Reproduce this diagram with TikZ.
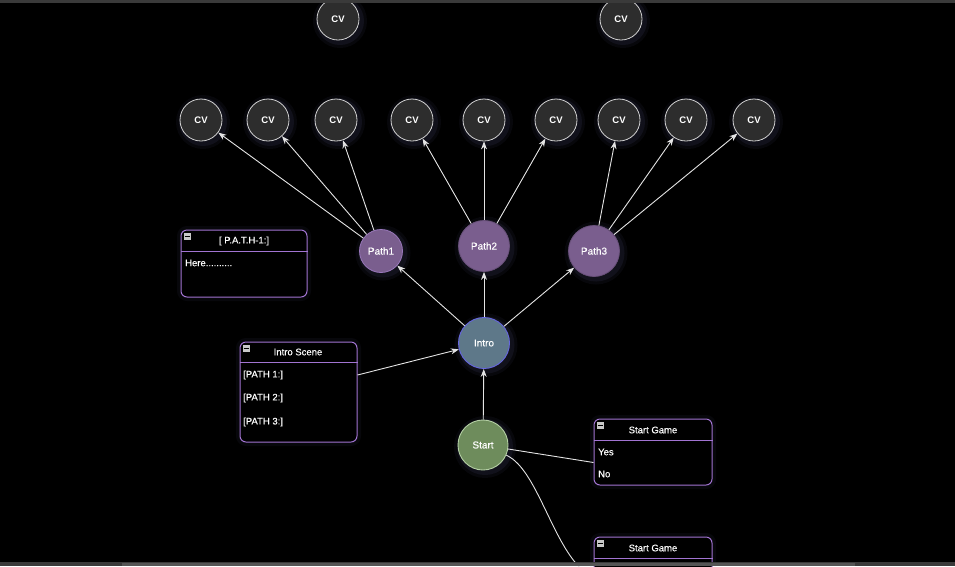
\documentclass[tikz,border=0pt]{standalone}
\usepackage{fontspec}
\setmainfont{Liberation Sans}
\newfontfamily\medfont[FakeBold=0.35]{Liberation Sans}
\usetikzlibrary{arrows.meta,calc}
\definecolor{cvfill}{HTML}{2D2D2D}
\definecolor{cvline}{HTML}{D0D0D0}
\definecolor{pathfill}{HTML}{7A5E8E}
\definecolor{pathline}{HTML}{9A78BC}
\definecolor{introfill}{HTML}{5E7889}
\definecolor{introline}{HTML}{6666E0}
\definecolor{startfill}{HTML}{6E8C5C}
\definecolor{startline}{HTML}{B4CFA4}
\definecolor{boxline}{HTML}{A274D2}
\definecolor{glowc}{HTML}{8C8CD8}
\definecolor{edgec}{HTML}{E4E4E4}
\definecolor{barc}{HTML}{3A3A3A}
\definecolor{scrollc}{HTML}{555555}
\definecolor{iconc}{HTML}{C8C8C8}
\tikzset{
  glow/.style={
    preaction={draw=glowc,line width=12pt,opacity=0.05,transform canvas={shift={(2pt,-2pt)}}},
    preaction={draw=glowc,line width=6pt,opacity=0.08,transform canvas={shift={(2pt,-2pt)}}}},
  cv/.style={circle,glow,draw=cvline,fill=cvfill,line width=0.8pt,minimum size=42pt,inner sep=0pt,
    text=white,font=\fontsize{9.5}{11}\selectfont\bfseries},
  pathnode/.style={circle,glow,fill=pathfill,draw=pathline,line width=0.8pt,inner sep=0pt,
    text=white,font=\fontsize{10}{12}\selectfont\medfont},
  intronode/.style={circle,glow,fill=introfill,draw=introline,line width=0.9pt,minimum size=51pt,inner sep=0pt,
    text=white,font=\fontsize{10}{12}\selectfont\medfont},
  startnode/.style={circle,glow,fill=startfill,draw=startline,line width=0.9pt,minimum size=50pt,inner sep=0pt,
    text=white,font=\fontsize{10}{12}\selectfont\medfont},
  frame/.style={draw=boxline,line width=1pt,rounded corners=6pt,fill=black,
    preaction={draw=glowc,line width=8pt,opacity=0.05}},
  hdr/.style={text=white,font=\fontsize{9.5}{11}\selectfont\medfont},
  rowtxt/.style={text=white,anchor=west,inner sep=0pt,font=\fontsize{9.5}{11}\selectfont\medfont},
  arr/.style={draw=edgec,line width=0.9pt,-{Stealth[length=8pt,width=6pt]}},
  plain/.style={draw=edgec,line width=0.9pt},
}
\newcommand{\minusicon}[1]{%
  \fill[iconc] ($(#1.north west)+(3,3)$) rectangle ++(7,7);
  \draw[black,line width=0.8pt] ($(#1.north west)+(4,6.5)$) -- ++(5,0);}
\begin{document}
\begin{tikzpicture}[x=1pt,y=-1pt]
\clip (0,0) rectangle (955,566);
\fill[black] (0,0) rectangle (955,566);

% top CV nodes
\node[cv] (cvT1) at (338,19) {CV};
\node[cv] (cvT2) at (621,19) {CV};

% CV row
\node[cv] (cv1) at (201,120) {CV};
\node[cv] (cv2) at (268,120) {CV};
\node[cv] (cv3) at (336,120) {CV};
\node[cv] (cv4) at (412,120) {CV};
\node[cv] (cv5) at (484,120) {CV};
\node[cv] (cv6) at (556,120) {CV};
\node[cv] (cv7) at (619,120) {CV};
\node[cv] (cv8) at (686,120) {CV};
\node[cv] (cv9) at (754,120) {CV};

% path nodes
\node[pathnode,minimum size=43pt] (p1) at (381,251) {Path1};
\node[pathnode,minimum size=51pt,draw=pathfill!85!black] (p2) at (484,246) {Path2};
\node[pathnode,minimum size=51pt,draw=pathfill!85!black] (p3) at (594,251) {Path3};

\node[intronode] (intro) at (484,343) {Intro};
\node[startnode] (start) at (483,445) {Start};

% boxes
\node[frame,minimum width=126pt,minimum height=67pt,inner sep=0pt] (bp1) at (244,263.5) {};
\draw[boxline,line width=1pt] ($(bp1.north west)+(0,22)$) -- ($(bp1.north east)+(0,22)$);
\node[hdr] (bp1h) at (244,241) {[ P.A.T.H-1:]};
\node[rowtxt] (bp1r) at (185,263) {Here..........};
\minusicon{bp1}

\node[frame,minimum width=117pt,minimum height=100pt,inner sep=0pt] (scene) at (298.5,392) {};
\draw[boxline,line width=1pt] ($(scene.north west)+(0,21)$) -- ($(scene.north east)+(0,21)$);
\node[hdr] (sceneh) at (298,352) {Intro Scene};
\node[rowtxt] (sr1) at (243,375) {[PATH 1:]};
\node[rowtxt] (sr2) at (243,398) {[PATH 2:]};
\node[rowtxt] (sr3) at (243,422) {[PATH 3:]};
\minusicon{scene}

\node[frame,minimum width=118pt,minimum height=66pt,inner sep=0pt] (sg1) at (653,452) {};
\draw[boxline,line width=1pt] ($(sg1.north west)+(0,22)$) -- ($(sg1.north east)+(0,22)$);
\node[hdr] (sg1h) at (653,430) {Start Game};
\node[rowtxt] (sg1r1) at (598,452) {Yes};
\node[rowtxt] (sg1r2) at (598,474) {No};
\minusicon{sg1}

\node[frame,minimum width=118pt,minimum height=66pt,inner sep=0pt] (sg2) at (653,570) {};
\draw[boxline,line width=1pt] ($(sg2.north west)+(0,22)$) -- ($(sg2.north east)+(0,22)$);
\node[hdr] (sg2h) at (653,548) {Start Game};
\minusicon{sg2}

% edges
\draw[arr] (p1) -- (cv1);
\draw[arr] (p1) -- (cv2);
\draw[arr] (p1) -- (cv3);
\draw[arr] (p2) -- (cv4);
\draw[arr] (p2) -- (cv5);
\draw[arr] (p2) -- (cv6);
\draw[arr] (p3) -- (cv7);
\draw[arr] (p3) -- (cv8);
\draw[arr] (p3) -- (cv9);
\draw[arr] (intro) -- (p1);
\draw[arr] (intro) -- (p2);
\draw[arr] (intro) -- (p3);
\draw[arr] (start) -- (intro);
\draw[arr] (scene.east |- sr1) -- (intro);
\draw[plain] (start) -- ($(sg1.north west)+(0,44)$);
\draw[plain] (start) .. controls (540,470) and (555,560) .. ($(sg2.north west)+(0,41)$);

% window bars
\fill[barc] (0,0) rectangle (955,3);
\fill[barc] (0,562) rectangle (955,566);
\fill[scrollc] (122,563) rectangle (855,566);
\end{tikzpicture}
\end{document}
